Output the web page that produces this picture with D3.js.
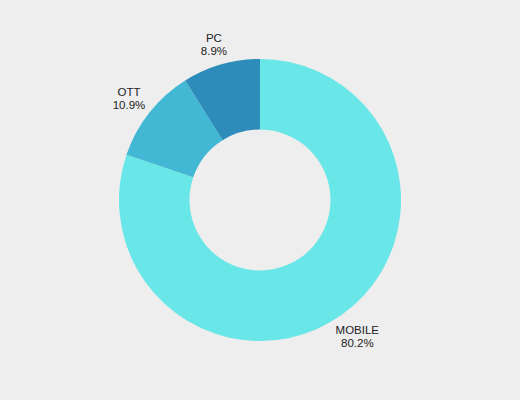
<!DOCTYPE html>
<html>
<head>
<meta charset="utf-8">
<script src="https://cdn.jsdelivr.net/npm/d3@7"></script>
<style>
  html, body { margin: 0; padding: 0; background: #eeeeee; }
  #chart { width: 520px; height: 400px; }
  .slice-label { font-family: "Liberation Sans", Arial, sans-serif; font-size: 11.5px; fill: #222; }
</style>
</head>
<body>
<div id="chart"></div>
<script>
// chart data
var categories = ["MOBILE", "OTT", "PC"];
var shares = [80.2, 10.9, 8.9];
var colors = ["#69e6e8", "#42b8d5", "#2d8cba"];

var width = 520, height = 400;
var cx = 260, cy = 200;
var outerR = 141, innerR = 70.5;

var svg = d3.select("#chart")
  .append("svg")
    .attr("width", width)
    .attr("height", height);

svg.append("rect")
    .attr("width", width)
    .attr("height", height)
    .attr("fill", "#eeeeee");

var g = svg.append("g")
    .attr("transform", "translate(" + cx + "," + cy + ")");

var data = categories.map(function(c, i) {
  return {name: c, value: shares[i], color: colors[i]};
});

var pie = d3.pie()
    .value(function(d) { return d.value; })
    .sort(null);

var arc = d3.arc()
    .innerRadius(innerR)
    .outerRadius(outerR);

var arcs = pie(data);

g.selectAll("path")
  .data(arcs)
  .enter().append("path")
    .attr("d", arc)
    .attr("fill", function(d) { return d.data.color; });

// labels outside the ring
var label = g.selectAll("g.label")
  .data(arcs)
  .enter().append("g")
    .attr("class", "label")
    .attr("transform", function(d) {
      var a = (d.startAngle + d.endAngle) / 2;
      var x = 167 * Math.sin(a);
      var ry = Math.cos(a) > 0 ? 158 : 172;
      var y = -ry * Math.cos(a);
      return "translate(" + x + "," + y + ")";
    });

label.append("text")
    .attr("class", "slice-label")
    .attr("text-anchor", "middle")
    .attr("y", -6)
    .text(function(d) { return d.data.name; });

label.append("text")
    .attr("class", "slice-label")
    .attr("text-anchor", "middle")
    .attr("y", 7)
    .text(function(d) { return d.data.value.toFixed(1) + "%"; });
</script>
</body>
</html>
